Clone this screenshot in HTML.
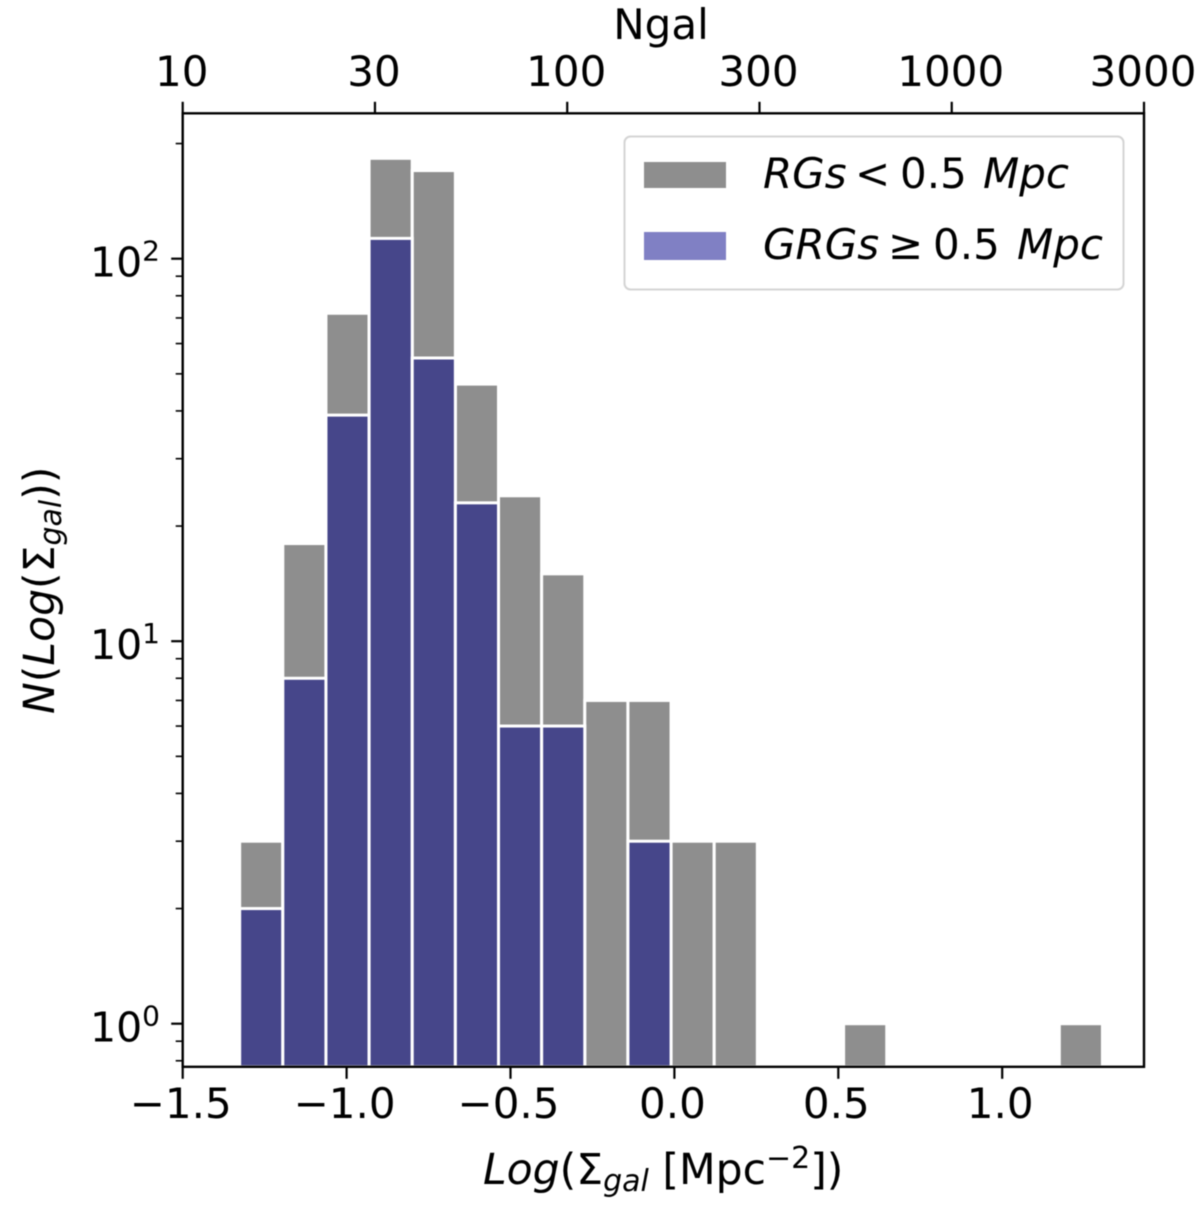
<!DOCTYPE html>
<html lang="en">
<head>
<meta charset="utf-8">
<title>Histogram of galaxy surface density</title>
<style>
html,body{margin:0;padding:0;background:#fff;width:1200px;height:1205px;overflow:hidden}
svg{display:block;font-family:"DejaVu Sans","Liberation Sans",sans-serif;fill:#000;filter:blur(0.5px)}
</style>
</head>
<body>
<svg id="chart" xmlns="http://www.w3.org/2000/svg" width="1200" height="1205" viewBox="0 0 1200 1205">
  <rect x="0" y="0" width="1200" height="1205" fill="#fff"/>
  <g id="bars-all"></g>
  <g id="bars-grg"></g>
  <g id="ticks"></g>
  <g id="tick-labels" font-size="42"></g>
  <path d="M182.7 113.3H1144V1066.8H182.7Z" fill="none" stroke="#000" stroke-width="2.4"/>

  <text x="661" y="39" font-size="42" text-anchor="middle">Ngal</text>
  <text x="483" y="1184" font-size="42.5"><tspan font-style="italic">Log</tspan>(Σ<tspan font-style="italic" font-size="30" dy="7">gal</tspan><tspan dy="-7"> [Mpc</tspan><tspan font-size="30" dy="-16">−2</tspan><tspan dy="16">])</tspan></text>
  <text transform="translate(54,714) rotate(-90)" x="0" y="0" font-size="42.5"><tspan font-style="italic">N</tspan>(<tspan font-style="italic">Log</tspan>(Σ<tspan font-style="italic" font-size="30" dy="7">gal</tspan><tspan dy="-7">))</tspan></text>

  <g>
    <rect x="624.5" y="136.5" width="499" height="153" rx="6" ry="6" fill="#fff" fill-opacity="0.9" stroke="#d4d4d4" stroke-width="2"/>
    <rect x="644" y="162" width="82" height="26" fill="#8e8e8e"/>
    <text y="188" font-size="42"><tspan x="763" font-style="italic">RGs</tspan><tspan x="855">&lt;</tspan><tspan x="900">0.5</tspan><tspan x="983" font-style="italic">Mpc</tspan></text>
    <rect x="644" y="232" width="82" height="28" fill="#8080c4"/>
    <text y="259" font-size="42"><tspan x="763" font-style="italic">GRGs</tspan><tspan x="888">≥</tspan><tspan x="933">0.5</tspan><tspan x="1017" font-style="italic">Mpc</tspan></text>
  </g>
</svg>
<script>
// Histogram data
const binStart = -1.3262;
const binWidth = 0.1316;
const rgsCounts = [3, 18, 72, 183, 170, 47, 24, 15, 7, 7, 3, 3, 0, 0, 1, 0, 0, 0, 0, 1];
const grgCounts = [2, 8, 39, 113, 55, 23, 6, 6, 0, 3, 0, 0, 0, 0, 0, 0, 0, 0, 0, 0];
const xTickValues = [-1.5, -1.0, -0.5, 0.0, 0.5, 1.0];
const xTickLabels = ['−1.5', '−1.0', '−0.5', '0.0', '0.5', '1.0'];
const topTickLabels = ['10', '30', '100', '300', '1000', '3000'];
const yMajorValues = [1, 10, 100];
const yMajorExponents = ['0', '1', '2'];
const yMinorValues = [0.8, 0.9, 2, 3, 4, 5, 6, 7, 8, 9, 20, 30, 40, 50, 60, 70, 80, 90, 200];

const NS = 'http://www.w3.org/2000/svg';
const plotLeft = 182.7, plotRight = 1144, plotTop = 113.3, plotBottom = 1066.8;
function xScale(v) { return plotLeft + (v + 1.5) * 327.8; }
function yScale(v) { return 1023.7 - 382.5 * Math.log10(v); }
function topScale(i) { return plotLeft + i * (plotRight - plotLeft) / (topTickLabels.length - 1); }
function make(tag, parent) { const el = document.createElementNS(NS, tag); parent.appendChild(el); return el; }

const gAll = document.getElementById('bars-all');
const gGrg = document.getElementById('bars-grg');
const gTicks = document.getElementById('ticks');
const gLabels = document.getElementById('tick-labels');

function drawBar(parent, i, value, color) {
  if (value <= 0) return null;
  const x0 = xScale(binStart + i * binWidth);
  const x1 = xScale(binStart + (i + 1) * binWidth);
  const y = yScale(value);
  const r = make('rect', parent);
  r.setAttribute('x', x0);
  r.setAttribute('y', y);
  r.setAttribute('width', x1 - x0);
  r.setAttribute('height', plotBottom - y);
  r.setAttribute('fill', color);
  r.setAttribute('stroke', '#fff');
  r.setAttribute('stroke-width', '3');
  return r;
}
rgsCounts.forEach(function (v, i) {
  const r = drawBar(gAll, i, v, '#8e8e8e');
  if (r) {
    
    
  }
});
grgCounts.forEach(function (v, i) {
  const r = drawBar(gGrg, i, v, '#46468a');
  if (r) {
    
    
  }
});

function drawTick(x1, y1, x2, y2, w) {
  const l = make('line', gTicks);
  l.setAttribute('x1', x1);
  l.setAttribute('y1', y1);
  l.setAttribute('x2', x2);
  l.setAttribute('y2', y2);
  l.setAttribute('stroke', '#000');
  l.setAttribute('stroke-width', w);
  return l;
}
function drawLabel(x, y, txt, anchor) {
  const t = make('text', gLabels);
  t.setAttribute('x', x);
  t.setAttribute('y', y);
  t.setAttribute('text-anchor', anchor);
  t.textContent = txt;
  return t;
}

xTickValues.forEach(function (v, i) {
  const x = xScale(v);
  const tick = drawTick(x, plotBottom, x, plotBottom + 12, 2.2);
  
  
  const label = drawLabel(x - 2, 1118, xTickLabels[i], 'middle');
  
  
});

topTickLabels.forEach(function (txt, i) {
  const x = topScale(i);
  const tick = drawTick(x, plotTop, x, plotTop - 11.5, 2.2);
  
  
  const label = drawLabel(x - 1, 86, txt, 'middle');
  
  
});

yMajorValues.forEach(function (v, i) {
  const y = yScale(v);
  const tick = drawTick(plotLeft - 11.5, y, plotLeft, y, 2.2);
  
  
  const label = drawLabel(160, y + 18, '10', 'end');
  label.setAttribute('font-size', '41');
  
  
  const sup = make('tspan', label);
  sup.setAttribute('font-size', '28');
  sup.setAttribute('dy', '-16');
  sup.textContent = yMajorExponents[i];
});

yMinorValues.forEach(function (v) {
  const y = yScale(v);
  const tick = drawTick(plotLeft - 7, y, plotLeft, y, 1.6);
  
  
});
</script>
</body>
</html>
